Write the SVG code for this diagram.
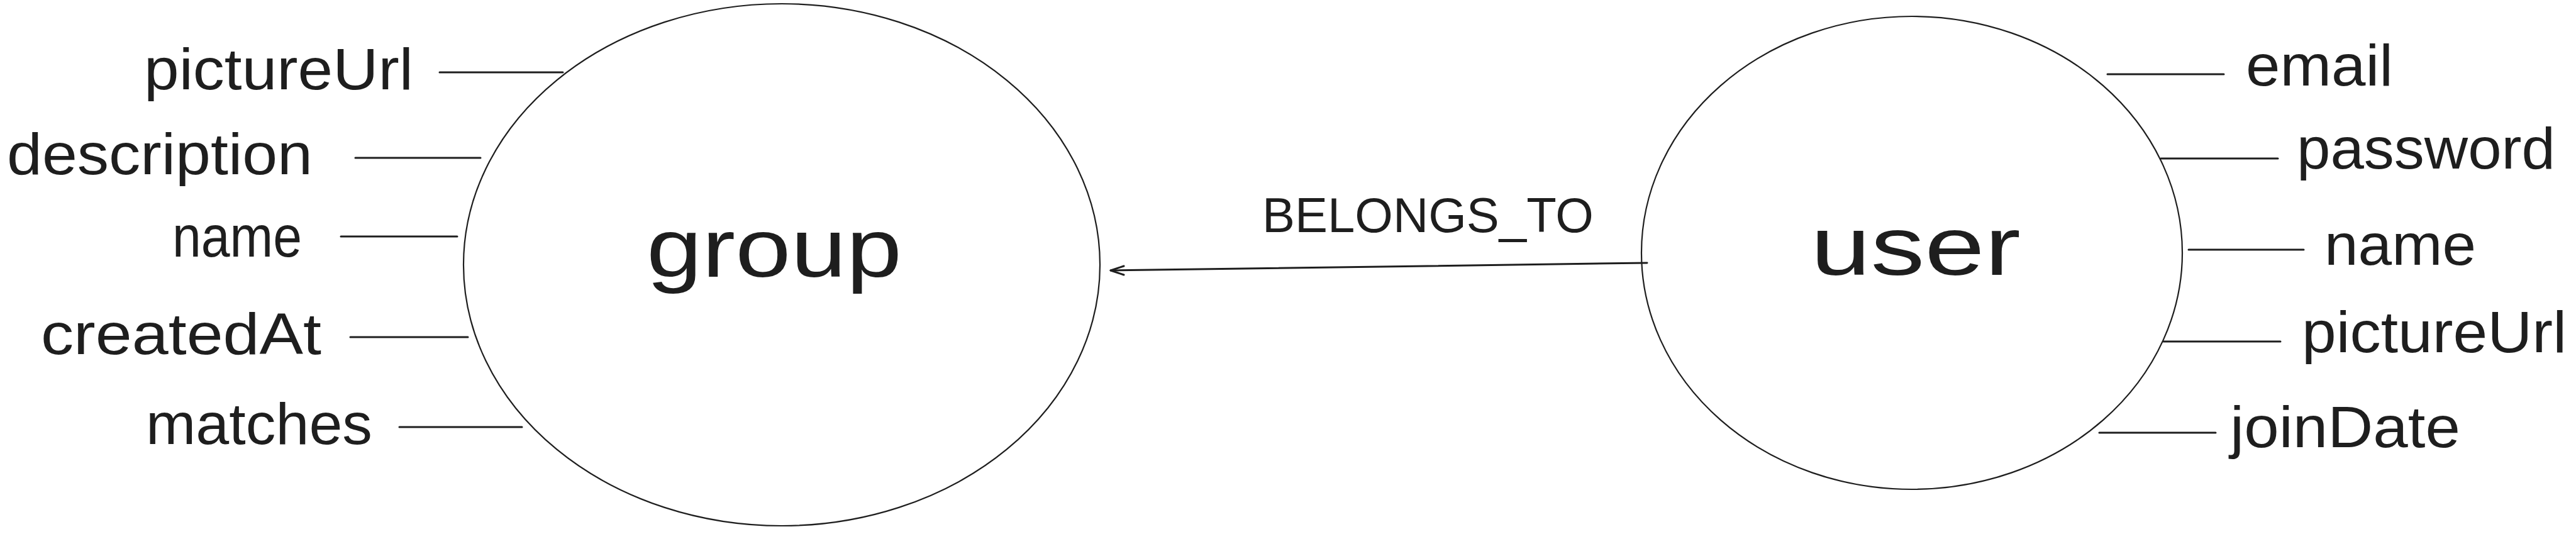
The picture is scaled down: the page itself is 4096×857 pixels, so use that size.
<svg xmlns="http://www.w3.org/2000/svg" width="4096" height="857" viewBox="0 0 4096 857">
<style>
.bg{fill:#ffffff}
.node{fill:none;stroke:#1e1e1e;stroke-width:2.2}
.attr{stroke:#1e1e1e;stroke-width:3;fill:none;stroke-linecap:round}
.edge{stroke:#1e1e1e;stroke-width:3;fill:none;stroke-linecap:round;stroke-linejoin:round}
text{font-family:"Liberation Sans",Arial,sans-serif;fill:#1e1e1e}
.lbl{font-size:92px}
.title{font-size:132px}
.elbl{font-size:78px}
</style>
<rect class="bg" x="0" y="0" width="4096" height="857"/>
<g id="group">
<ellipse class="node" cx="1243" cy="421" rx="506" ry="415"/>
<text class="title" x="1028" y="440" textLength="406" lengthAdjust="spacingAndGlyphs">group</text>
</g>
<g id="user">
<ellipse class="node" cx="3040" cy="402" rx="430" ry="376"/>
<text class="title" x="2879" y="437" textLength="334" lengthAdjust="spacingAndGlyphs">user</text>
</g>
<g id="group-pictureUrl"><text class="lbl" x="229" y="142" textLength="428" lengthAdjust="spacingAndGlyphs">pictureUrl</text></g>
<g id="group-description"><text class="lbl" x="11" y="277" textLength="486" lengthAdjust="spacingAndGlyphs">description</text></g>
<g id="group-name"><text class="lbl" x="274" y="408" textLength="206" lengthAdjust="spacingAndGlyphs">name</text></g>
<g id="group-createdAt"><text class="lbl" x="65" y="563" textLength="446" lengthAdjust="spacingAndGlyphs">createdAt</text></g>
<g id="group-matches"><text class="lbl" x="232" y="706" textLength="360" lengthAdjust="spacingAndGlyphs">matches</text></g>
<g id="user-email"><text class="lbl" x="3571" y="136" textLength="234" lengthAdjust="spacingAndGlyphs">email</text></g>
<g id="user-password"><text class="lbl" x="3652" y="268" textLength="411" lengthAdjust="spacingAndGlyphs">password</text></g>
<g id="user-name"><text class="lbl" x="3696" y="421" textLength="241" lengthAdjust="spacingAndGlyphs">name</text></g>
<g id="user-pictureUrl"><text class="lbl" x="3660" y="560" textLength="421" lengthAdjust="spacingAndGlyphs">pictureUrl</text></g>
<g id="user-joinDate"><text class="lbl" x="3546" y="711" textLength="366" lengthAdjust="spacingAndGlyphs">joinDate</text></g>
<g id="connectors">
<line class="attr" x1="699" y1="115" x2="895" y2="115"/>
<line class="attr" x1="565" y1="251" x2="764" y2="251"/>
<line class="attr" x1="542" y1="376" x2="727" y2="376"/>
<line class="attr" x1="557" y1="536" x2="744" y2="536"/>
<line class="attr" x1="635" y1="679" x2="830" y2="679"/>
<line class="attr" x1="3351" y1="118" x2="3536" y2="118"/>
<line class="attr" x1="3436" y1="252" x2="3622" y2="252"/>
<line class="attr" x1="3480" y1="397" x2="3663" y2="397"/>
<line class="attr" x1="3440" y1="543" x2="3626" y2="543"/>
<line class="attr" x1="3338" y1="688" x2="3523" y2="688"/>
<line class="edge" x1="2619" y1="418" x2="1766" y2="430"/>
<polyline class="edge" points="1787,423 1766,430 1787,437"/>
<text class="elbl" x="2007" y="369" textLength="527" lengthAdjust="spacingAndGlyphs">BELONGS_TO</text>
</g>
</svg>
